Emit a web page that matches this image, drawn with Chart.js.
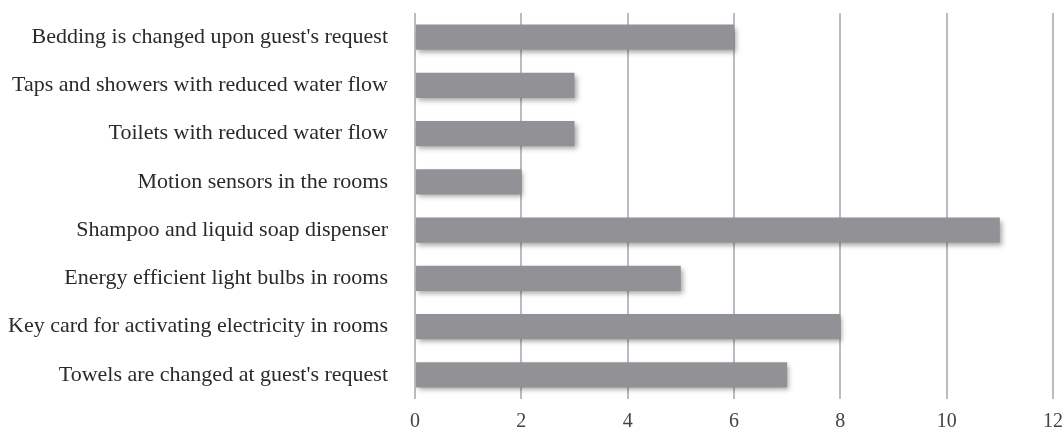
<!DOCTYPE html>
<html>
<head>
<meta charset="utf-8">
<script src="https://cdn.jsdelivr.net/npm/chart.js@4/dist/chart.umd.min.js"></script>
<style>
  html, body { margin: 0; padding: 0; background: #fff; }
  #wrap { width: 1062px; height: 432px; }
</style>
</head>
<body>
<div id="wrap"><canvas id="chart"></canvas></div>
<script>
const categories = [
  "Bedding is changed upon guest's request",
  "Taps and showers with reduced water flow",
  "Toilets with reduced water flow",
  "Motion sensors in the rooms",
  "Shampoo and liquid soap dispenser",
  "Energy efficient light bulbs in rooms",
  "Key card for activating electricity in rooms",
  "Towels are changed at guest's request"
];
const counts = [6, 3, 3, 2, 11, 5, 8, 7];
const xTicks = [0, 2, 4, 6, 8, 10, 12];

// soft drop shadow under the bars
const barShadow = {
  id: 'barShadow',
  beforeDatasetsDraw(chart) {
    const c = chart.ctx;
    c.save();
    c.shadowColor = 'rgba(0,0,0,0.35)';
    c.shadowBlur = 5;
    c.shadowOffsetX = 2;
    c.shadowOffsetY = 3;
  },
  afterDatasetsDraw(chart) {
    chart.ctx.restore();
  }
};

new Chart(document.getElementById('chart'), {
  type: 'bar',
  data: {
    labels: categories,
    datasets: [{
      data: counts,
      backgroundColor: '#929296',
      borderWidth: 0,
      barPercentage: 0.52,
      categoryPercentage: 1
    }]
  },
  options: {
    indexAxis: 'y',
    responsive: true,
    maintainAspectRatio: false,
    animation: false,
    layout: { padding: { top: 13, right: 9, bottom: 0, left: 0 } },
    plugins: { legend: { display: false }, tooltip: { enabled: false } },
    scales: {
      x: {
        min: 0,
        max: 12,
        afterBuildTicks(axis) { axis.ticks = xTicks.map(v => ({ value: v })); },
        afterFit(axis) {
          axis.height = 33;
          axis.paddingLeft = 0;
          axis.paddingRight = 0;
        },
        grid: { color: '#bcbcbf', lineWidth: 2, drawTicks: true, tickLength: 0 },
        border: { display: false },
        ticks: {
          color: '#444',
          padding: 11,
          font: { family: 'Liberation Serif', size: 20 }
        }
      },
      y: {
        grid: { display: false },
        border: { display: false },
        afterFit(axis) {
          axis.width = 415;
          axis.paddingTop = 0;
          axis.paddingBottom = 0;
        },
        ticks: {
          color: '#2a2a2a',
          padding: 19,
          font: { family: 'Liberation Serif', size: 22 }
        }
      }
    }
  },
  plugins: [barShadow]
});
</script>
</body>
</html>
